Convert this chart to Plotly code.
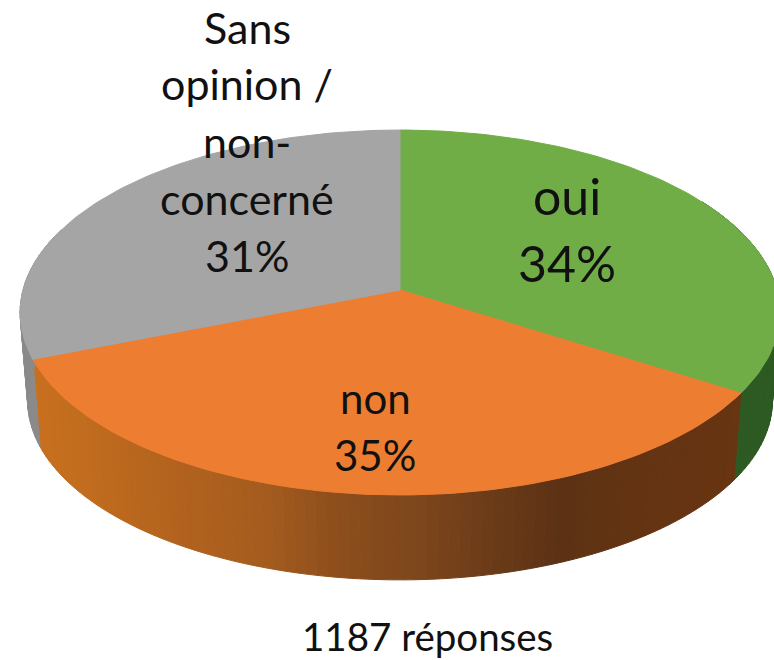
import math
import plotly.graph_objects as go

# --- data ---
categories = ["oui", "non", "Sans opinion / non-concerné"]
shares = [34, 35, 31]
top_colors = ["#70AD47", "#ED7D31", "#A5A5A5"]
side_colors = ["#2C5A22", None, "#8A8A8A"]
footnote = "1187 réponses"

# orange rim shading, left to right (pixel x, colour)
rim_x = [30, 100, 180, 260, 340, 420, 500, 560, 640, 745]
rim_r = [200, 190, 178, 165, 140, 125, 105, 92, 100, 104]
rim_g = [112, 106, 98, 92, 78, 70, 58, 50, 52, 52]
rim_b = [30, 30, 30, 30, 28, 28, 24, 20, 18, 18]

# label lines: text, centre x, centre y, font size
label_lines = [
    ("Sans", 247, 27, 43), ("opinion /", 247, 83, 43), ("non-", 247, 141, 43),
    ("concerné", 247, 198, 43), ("31%", 247, 255, 43),
    ("oui", 567, 196, 50), ("34%", 567, 263, 50),
    ("non", 375, 398, 42), ("35%", 375, 455, 42),
]
footnote_pos = (427, 636, 38.5)

# --- projection of the disc (perspective) ---
CX, CY, A, B, K = 400, 290, 377, 179.7, 0.1233
LOWER_DY, LOWER_S = 89, 0.98
W, H = 774, 660


def rim(theta, lower=False):
    u, v = math.sin(theta), math.cos(theta)
    d = 1 + K * v
    s = LOWER_S if lower else 1
    dy = LOWER_DY if lower else 0
    return CX + s * A * u / d, CY + dy - s * B * v / d


def rim_colour(x):
    if x <= rim_x[0]:
        i, t = 0, 0
    elif x >= rim_x[-1]:
        i, t = len(rim_x) - 2, 1
    else:
        i = max(j for j in range(len(rim_x) - 1) if rim_x[j] <= x)
        t = (x - rim_x[i]) / (rim_x[i + 1] - rim_x[i])
    mix = lambda c: round(c[i] + (c[i + 1] - c[i]) * t)
    return f"rgb({mix(rim_r)},{mix(rim_g)},{mix(rim_b)})"


fig = go.Figure()
total = sum(shares)
bounds = [0]
for s in shares:
    bounds.append(bounds[-1] + s / total * 2 * math.pi)

# side wall, as thin bands (only the part facing the viewer)
STEP = math.radians(1.5)
for k in range(len(shares)):
    t = bounds[k]
    while t < bounds[k + 1] - 1e-9:
        t2 = min(t + STEP, bounds[k + 1])
        if math.radians(60) < t2 and t < math.radians(290):
            p1, p2 = rim(t), rim(t2)
            q1, q2 = rim(t, True), rim(t2, True)
            col = side_colors[k] or rim_colour((p1[0] + p2[0]) / 2)
            fig.add_trace(go.Scatter(
                x=[p1[0], p2[0], q2[0], q1[0], p1[0]],
                y=[p1[1], p2[1], q2[1], q1[1], p1[1]],
                mode="lines", fill="toself", fillcolor=col,
                line=dict(color=col, width=1), hoverinfo="skip", showlegend=False))
        t = t2

# top face slices
for k, name in enumerate(categories):
    n = 90
    th = [bounds[k] + (bounds[k + 1] - bounds[k]) * i / n for i in range(n + 1)]
    pts = [rim(a) for a in th]
    fig.add_trace(go.Scatter(
        x=[CX] + [p[0] for p in pts] + [CX],
        y=[CY] + [p[1] for p in pts] + [CY],
        mode="lines", fill="toself", fillcolor=top_colors[k],
        line=dict(color=top_colors[k], width=1), name=name,
        hoverinfo="name", showlegend=False))

font_family = "Lato, 'Open Sans', sans-serif"
for txt, x, y, size in label_lines:
    fig.add_annotation(x=x, y=y, text=txt, showarrow=False, xanchor="center", yanchor="middle",
                       font=dict(family=font_family, size=size, color="#111111"))
fig.add_annotation(x=footnote_pos[0], y=footnote_pos[1], text=footnote, showarrow=False,
                   xanchor="center", yanchor="middle",
                   font=dict(family=font_family, size=footnote_pos[2], color="#111111"))

fig.update_layout(
    width=W, height=H, margin=dict(l=0, r=0, t=0, b=0),
    paper_bgcolor="white", plot_bgcolor="white", showlegend=False,
    xaxis=dict(range=[0, W], visible=False, fixedrange=True),
    yaxis=dict(range=[H, 0], visible=False, fixedrange=True),
)
fig.write_html("out.html", config={"displayModeBar": False},
               post_script="document.body.style.margin='0';document.documentElement.style.overflow='hidden';")
